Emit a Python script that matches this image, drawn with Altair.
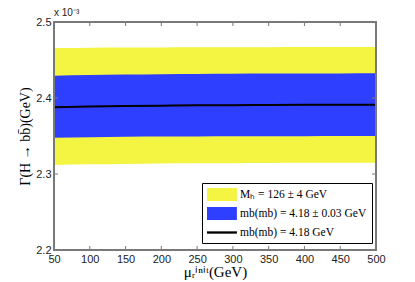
import altair as alt
import pandas as pd

# ---- data (values in units of 1e-3 GeV) ----
mu = [50, 100, 150, 200, 250, 300, 350, 400, 450, 500]
yellow_hi = [2.4658, 2.4662, 2.4664, 2.4666, 2.4667, 2.4668, 2.4669, 2.4670, 2.4671, 2.4672]
blue_hi = [2.4293, 2.4303, 2.4309, 2.4313, 2.4316, 2.4319, 2.4321, 2.4323, 2.4324, 2.4325]
central = [2.3877, 2.3888, 2.3895, 2.3899, 2.3903, 2.3906, 2.3908, 2.3910, 2.3911, 2.3912]
blue_lo = [2.3478, 2.3485, 2.3489, 2.3492, 2.3494, 2.3496, 2.3497, 2.3498, 2.3499, 2.3500]
yellow_lo = [2.3118, 2.3127, 2.3133, 2.3137, 2.3140, 2.3143, 2.3145, 2.3147, 2.3148, 2.3149]

x_ticks = [50, 100, 150, 200, 250, 300, 350, 400, 450, 500]
y_ticks = [2.2, 2.3, 2.4, 2.5]
legend_labels = [
    "Mₕ = 126 ± 4 GeV",
    "mb(mb) = 4.18 ± 0.03 GeV",
    "mb(mb) = 4.18 GeV",
]
exponent_text = ["x 10⁻³"]

YELLOW = "#f4f442"
BLUE = "#2f3fff"
GRAY = "#7a7a7a"

df = pd.DataFrame(dict(mu=mu, yhi=yellow_hi, ylo=yellow_lo, bhi=blue_hi, blo=blue_lo, c=central))
xt = pd.DataFrame(dict(t=x_ticks))
yt = pd.DataFrame(dict(t=y_ticks))
lg = pd.DataFrame(dict(series=legend_labels))
ex = pd.DataFrame(dict(s=exponent_text))

W, H = 322, 228
xs = alt.Scale(domain=[50, 500], nice=False, zero=False)
ys = alt.Scale(domain=[2.2, 2.5], nice=False, zero=False)

x_axis = alt.Axis(values=x_ticks, title="μᵣⁱⁿⁱᵗ(GeV)", ticks=False, domain=False, grid=False,
                  labelFlush=False, labelPadding=3, labelFont="Liberation Sans", labelFontSize=11,
                  labelColor="#222222", titleFont="Liberation Serif", titleFontSize=15,
                  titleFontWeight="normal", titleColor="#000000", titlePadding=0)
y_axis = alt.Axis(values=y_ticks, format=".1f", title="Γ(H → bb̄)(GeV)", ticks=False, domain=False,
                  grid=False, labelFlush=False, labelPadding=3, labelFont="Liberation Sans",
                  labelFontSize=11, labelColor="#222222", titleFont="Liberation Serif",
                  titleFontSize=14, titleFontWeight="normal", titleColor="#000000", titlePadding=3)

base = alt.Chart(df)
yellow = base.mark_area(color=YELLOW, interpolate="monotone").encode(
    x=alt.X("mu:Q", scale=xs, axis=x_axis),
    y=alt.Y("ylo:Q", scale=ys, axis=y_axis),
    y2="yhi:Q",
)
blue = base.mark_area(color=BLUE, interpolate="monotone").encode(
    x=alt.X("mu:Q", scale=xs, axis=x_axis), y=alt.Y("blo:Q", scale=ys, axis=y_axis), y2="bhi:Q"
)
line = base.mark_line(color="#000000", strokeWidth=2, interpolate="monotone").encode(
    x=alt.X("mu:Q", scale=xs, axis=x_axis), y=alt.Y("c:Q", scale=ys, axis=y_axis)
)

frame = alt.Chart(xt).mark_rect(fillOpacity=0, stroke=GRAY, strokeWidth=1.5).encode(
    x=alt.value(0), x2=alt.value(W), y=alt.value(0), y2=alt.value(H)
)
tb = alt.Chart(xt).mark_rule(color=GRAY, strokeWidth=1).encode(
    x=alt.X("t:Q", scale=xs, axis=x_axis), y=alt.value(H), y2=alt.value(H - 4))
tt = alt.Chart(xt).mark_rule(color=GRAY, strokeWidth=1).encode(
    x=alt.X("t:Q", scale=xs, axis=x_axis), y=alt.value(0), y2=alt.value(4))
tl = alt.Chart(yt).mark_rule(color=GRAY, strokeWidth=1).encode(
    y=alt.Y("t:Q", scale=ys, axis=y_axis), x=alt.value(0), x2=alt.value(4))
tr = alt.Chart(yt).mark_rule(color=GRAY, strokeWidth=1).encode(
    y=alt.Y("t:Q", scale=ys, axis=y_axis), x=alt.value(W), x2=alt.value(W - 4))

exp_label = alt.Chart(ex).mark_text(align="left", baseline="alphabetic", fontSize=10,
                                    font="Liberation Sans", color="#222222").encode(
    text="s:N", x=alt.value(0), y=alt.value(-6))

rect_path = "M-1,-1L3.6,-1L3.6,1L-1,1Z"
line_path = "M-1,-0.18L3.6,-0.18L3.6,0.18L-1,0.18Z"
leg = alt.Legend(orient="none", legendX=148, legendY=161, title=None, padding=5,
                 strokeColor="#000000", fillColor="#ffffff", symbolSize=169, symbolOpacity=1,
                 symbolStrokeWidth=0, labelOffset=20, rowPadding=6,
                 labelFont="Liberation Serif", labelFontSize=11.5, labelColor="#000000")
legend_layer = alt.Chart(lg).mark_point(filled=True, opacity=0).encode(
    color=alt.Color("series:N", scale=alt.Scale(domain=legend_labels, range=[YELLOW, BLUE, "#000000"]), legend=leg),
    shape=alt.Shape("series:N", scale=alt.Scale(domain=legend_labels, range=[rect_path, rect_path, line_path]), legend=leg),
)

chart = alt.layer(yellow, blue, line, tb, tt, tl, tr, frame, exp_label, legend_layer).properties(
    width=W, height=H,
    autosize=alt.AutoSizeParams(type="none"),
    padding={"left": 46, "top": 14, "right": 31, "bottom": 32},
).configure_view(stroke=None)

chart.save("out.html", embed_options={"renderer": "svg", "actions": False})
